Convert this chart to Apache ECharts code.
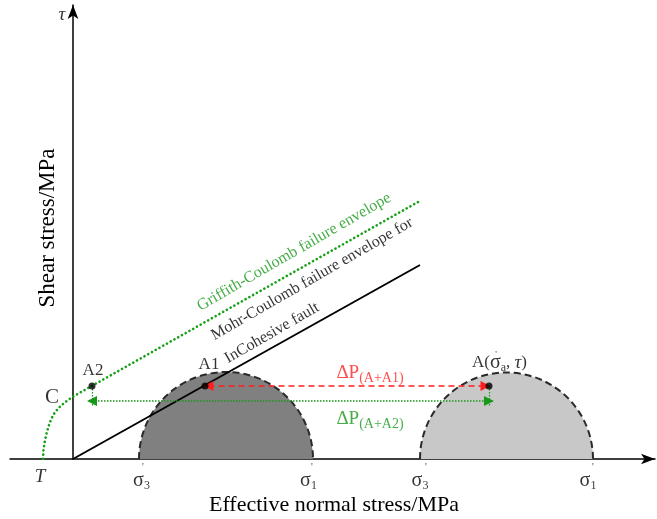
<!DOCTYPE html>
<html>
<head>
<meta charset="utf-8">
<script src="https://cdn.jsdelivr.net/npm/echarts@6/dist/echarts.min.js"></script>
<style>
html, body { margin: 0; padding: 0; background: #fff; }
#chart { width: 657px; height: 519px; }
</style>
</head>
<body>
<div id="chart"></div>
<script>
// Mohr circles: centre on the normal stress axis, radius
const circleCenters = [15.3, 43.35];
const circleRadii = [8.7, 8.65];

// Mohr-Coulomb envelope for a cohesionless fault (through origin)
const mohrLine = [[0, 0], [34.7, 19.4]];

// Griffith-Coulomb envelope, curved from T then straight
const griffithCurve = [
  [-3.0, 0], [-2.96, 0.8], [-2.85, 1.6], [-2.68, 2.4], [-2.47, 3.2],
  [-2.2, 3.95], [-1.85, 4.6], [-1.45, 5.1], [-1.0, 5.5], [-0.5, 5.9],
  [0.1, 6.3], [34.5, 25.7]
];

// stress states
const pointNames = ['A2', 'A1', 'A'];
const pointX = [1.9, 13.2, 41.6];
const pointY = [7.3, 7.3, 7.3];
const greenArrowY = 5.8;
const greenTickBottom = 5.2;

const FONT = "'Liberation Serif', 'Times New Roman', serif";
const GREEN = '#189818';
const RED = '#ff1e1e';
const INK = '#000';

// text annotations (data coords)
const annotations = [
  { text: '{t|τ}', pos: [-1.1, 44.4] },
  { text: 'C', pos: [-2.1, 6.2], size: 21 },
  { text: '{t|T}', pos: [-3.3, -1.8] },
  { text: 'A2', pos: [2.0, 8.8], size: 17 },
  { text: 'A1', pos: [13.6, 9.4], size: 17 },
  { text: '{n|A(}{g|σ}{sub|a}{n|, }{t|τ}{n|)}', pos: [42.65, 9.6] },
  { text: "'", pos: [42.3, 10.4], size: 9 },
  { text: '{d|ΔP}{ds|(A+A1)}', pos: [29.7, 8.6], color: RED },
  { text: '{d|ΔP}{ds|(A+A2)}', pos: [29.7, 4.0], color: GREEN },
  { text: '{g|σ}{sub|3}', pos: [6.85, -2.2] },
  { text: '{g|σ}{sub|1}', pos: [23.55, -2.2] },
  { text: '{g|σ}{sub|3}', pos: [34.7, -2.2] },
  { text: '{g|σ}{sub|1}', pos: [51.5, -2.2] },
  { text: "'", pos: [7.0, -0.8], size: 10 },
  { text: "'", pos: [23.9, -0.8], size: 10 },
  { text: "'", pos: [35.3, -0.8], size: 10 },
  { text: "'", pos: [52.0, -0.8], size: 10 },
  { text: 'Griffith-Coulomb failure envelope', pos: [22.1, 20.7], rotate: 30, color: GREEN },
  { text: 'Mohr-Coulomb failure envelope for', pos: [23.9, 18.0], rotate: 30 },
  { text: 'InCohesive fault', pos: [19.9, 12.6], rotate: 30 }
];

const chart = echarts.init(document.getElementById('chart'));

const axisLine = {
  show: true,
  onZero: true,
  symbol: ['none', 'arrow'],
  symbolSize: [8, 14],
  lineStyle: { color: '#000', width: 1.5 }
};

const option = {
  animation: false,
  backgroundColor: '#fff',
  grid: { left: 10, right: 2, top: 5, bottom: 60 },
  xAxis: {
    type: 'value', min: -6.3, max: 58.2,
    axisLine: axisLine,
    axisTick: { show: false }, axisLabel: { show: false }, splitLine: { show: false }
  },
  yAxis: {
    type: 'value', min: 0, max: 45.4,
    axisLine: axisLine,
    axisTick: { show: false }, axisLabel: { show: false }, splitLine: { show: false }
  },
  graphic: [
    {
      type: 'text', x: 334, y: 505,
      style: {
        text: 'Effective normal stress/MPa', fontSize: 22, fontFamily: FONT, fill: INK,
        align: 'center', verticalAlign: 'middle', textAlign: 'center', textVerticalAlign: 'middle'
      }
    },
    {
      type: 'text', x: 48, y: 228, rotation: Math.PI / 2,
      style: {
        text: 'Shear stress/MPa', fontSize: 23, fontFamily: FONT, fill: INK,
        align: 'center', verticalAlign: 'middle', textAlign: 'center', textVerticalAlign: 'middle'
      }
    }
  ],
  series: [
    {
      type: 'custom',
      clip: false,
      z: 1,
      data: circleCenters.map((c, i) => [c, circleRadii[i]]),
      renderItem: function (params, api) {
        const p = api.coord([api.value(0), 0]);
        const r = api.size([api.value(1), 0])[0];
        const fill = params.dataIndex === 0 ? '#808080' : '#c8c8c8';
        return {
          type: 'group',
          children: [
            {
              type: 'sector',
              shape: { cx: p[0], cy: p[1], r0: 0, r: r, startAngle: Math.PI, endAngle: 2 * Math.PI, clockwise: true },
              style: { fill: fill }
            },
            {
              type: 'arc',
              shape: { cx: p[0], cy: p[1], r: r, startAngle: Math.PI, endAngle: 2 * Math.PI, clockwise: true },
              style: { stroke: '#2a2a2a', lineWidth: 2, lineDash: [7, 4], fill: null }
            }
          ]
        };
      }
    },
    {
      type: 'line',
      z: 3,
      data: mohrLine,
      symbol: 'none',
      lineStyle: { color: '#000', width: 2 }
    },
    {
      type: 'line',
      z: 3,
      data: griffithCurve,
      symbol: 'none',
      lineStyle: { color: '#16a016', width: 2.6, type: [0.1, 4.2], cap: 'round' }
    },
    {
      type: 'lines',
      coordinateSystem: 'cartesian2d',
      z: 4,
      symbol: ['triangle', 'triangle'],
      symbolSize: 10,
      lineStyle: { color: RED, width: 1.5, type: [6, 4], opacity: 1 },
      data: [{ coords: [[pointX[1] + 0.35, pointY[1]], [pointX[2] - 0.35, pointY[2]]] }]
    },
    {
      type: 'lines',
      coordinateSystem: 'cartesian2d',
      z: 4,
      symbol: ['triangle', 'triangle'],
      symbolSize: 10,
      lineStyle: { color: GREEN, width: 1.5, type: [1.5, 1.5], opacity: 1 },
      data: [{ coords: [[pointX[0], greenArrowY], [pointX[2], greenArrowY]] }]
    },
    {
      type: 'lines',
      coordinateSystem: 'cartesian2d',
      z: 4,
      symbol: 'none',
      lineStyle: { color: GREEN, width: 1.2, type: [1.5, 1.5], opacity: 1 },
      data: [0, 2].map(i => ({ coords: [[pointX[i], pointY[i]], [pointX[i], greenTickBottom]] }))
    },
    {
      type: 'scatter',
      z: 5,
      symbolSize: 7,
      itemStyle: { color: '#000' },
      data: pointNames.map((n, i) => ({ name: n, value: [pointX[i], pointY[i]] }))
    },
    {
      type: 'scatter',
      z: 6,
      clip: false,
      symbolSize: 0,
      silent: true,
      label: {
        show: true,
        position: 'inside',
        fontFamily: FONT,
        fontSize: 16,
        color: INK,
        rich: {
          t: { fontFamily: FONT, fontStyle: 'italic', fontSize: 19 },
          n: { fontFamily: FONT, fontSize: 17, lineHeight: 22 },
          g: { fontFamily: FONT, fontSize: 20, lineHeight: 22 },
          sub: { fontFamily: FONT, fontSize: 12, lineHeight: 22, verticalAlign: 'bottom' },
          d: { fontFamily: FONT, fontSize: 19, lineHeight: 24 },
          ds: { fontFamily: FONT, fontSize: 14, lineHeight: 24, verticalAlign: 'bottom' }
        }
      },
      data: annotations.map(a => ({
        value: a.pos,
        label: {
          formatter: a.text,
          rotate: a.rotate || 0,
          color: a.color || INK,
          fontSize: a.size || 16
        }
      }))
    }
  ]
};

chart.setOption(option);
</script>
</body>
</html>
